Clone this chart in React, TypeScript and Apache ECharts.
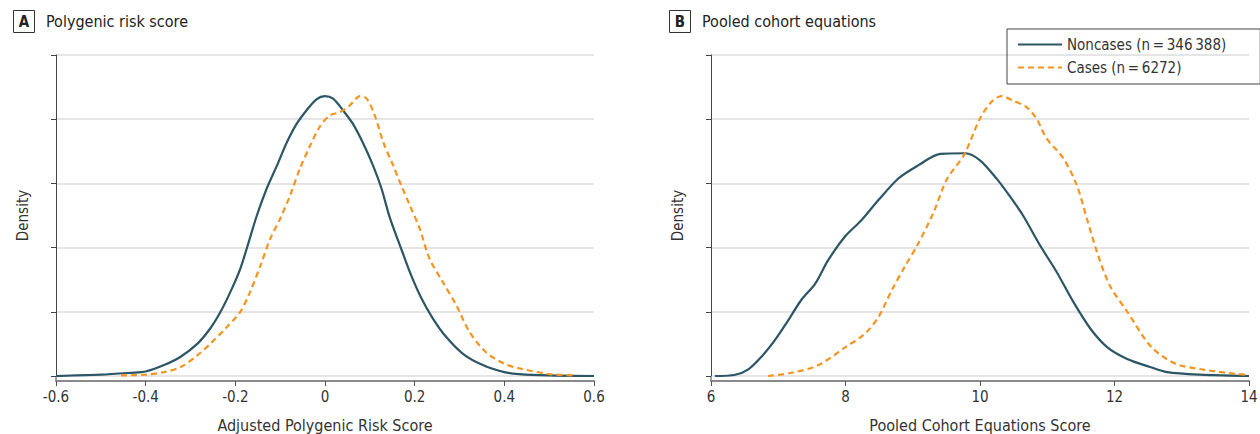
import React, { useEffect, useRef } from "react";
import * as echarts from "echarts";

const prsNoncases: [number, number][] = [
  [-0.6, 0.0], [-0.5, 0.02], [-0.433, 0.05], [-0.4, 0.07], [-0.359, 0.17], [-0.322, 0.3],
  [-0.285, 0.5], [-0.256, 0.74], [-0.233, 1.0], [-0.211, 1.31], [-0.189, 1.67], [-0.17, 2.09],
  [-0.152, 2.5], [-0.13, 2.92], [-0.107, 3.28], [-0.085, 3.64], [-0.063, 3.93], [-0.041, 4.14],
  [-0.019, 4.31], [0.0, 4.36], [0.018, 4.32], [0.04, 4.14], [0.062, 3.93], [0.084, 3.64],
  [0.107, 3.28], [0.126, 2.92], [0.144, 2.48], [0.17, 1.98], [0.192, 1.57], [0.215, 1.21],
  [0.241, 0.89], [0.27, 0.61], [0.307, 0.35], [0.352, 0.17], [0.4, 0.06], [0.433, 0.03],
  [0.5, 0.01], [0.6, 0.0],
];
const prsCases: [number, number][] = [
  [-0.455, 0.01], [-0.4, 0.02], [-0.359, 0.06], [-0.322, 0.14], [-0.285, 0.32], [-0.256, 0.5],
  [-0.222, 0.74], [-0.189, 1.0], [-0.167, 1.31], [-0.144, 1.72], [-0.122, 2.14], [-0.1, 2.45],
  [-0.078, 2.81], [-0.056, 3.23], [-0.033, 3.59], [-0.011, 3.89], [0.011, 4.06], [0.033, 4.11],
  [0.056, 4.22], [0.078, 4.36], [0.093, 4.32], [0.111, 4.06], [0.13, 3.64], [0.152, 3.28],
  [0.17, 2.97], [0.189, 2.66], [0.211, 2.3], [0.233, 1.83], [0.263, 1.46], [0.293, 1.1],
  [0.322, 0.69], [0.359, 0.37], [0.4, 0.19], [0.433, 0.12], [0.5, 0.03], [0.56, 0.01],
];
const pceNoncases: [number, number][] = [
  [6.06, 0.0], [6.36, 0.02], [6.55, 0.1], [6.75, 0.3], [6.95, 0.56], [7.15, 0.87], [7.34, 1.18],
  [7.55, 1.44], [7.74, 1.8], [7.99, 2.17], [8.24, 2.43], [8.49, 2.74], [8.79, 3.08], [9.08, 3.28],
  [9.41, 3.46], [9.78, 3.47], [10.0, 3.36], [10.25, 3.07], [10.45, 2.79], [10.64, 2.5],
  [10.89, 2.04], [11.14, 1.62], [11.39, 1.15], [11.64, 0.74], [11.89, 0.45], [12.18, 0.27],
  [12.53, 0.14], [12.78, 0.06], [13.27, 0.02], [14.0, 0.0],
];
const pceCases: [number, number][] = [
  [6.85, 0.0], [7.2, 0.05], [7.6, 0.17], [8.0, 0.45], [8.29, 0.66], [8.49, 0.92], [8.69, 1.34],
  [8.88, 1.7], [9.08, 2.06], [9.31, 2.55], [9.51, 3.07], [9.76, 3.44], [10.0, 4.01], [10.17, 4.27],
  [10.32, 4.36], [10.49, 4.29], [10.69, 4.19], [10.84, 4.01], [10.99, 3.7], [11.24, 3.39],
  [11.44, 2.97], [11.59, 2.45], [11.74, 1.93], [11.93, 1.41], [12.19, 1.0], [12.55, 0.45],
  [12.91, 0.19], [13.32, 0.1], [13.84, 0.03], [14.0, 0.02],
];

const NONCASES = "Noncases (n\u2009=\u2009346\u2009388)";
const CASES = "Cases (n\u2009=\u20096272)";
const FONT = "'Liberation Sans Narrow', 'DejaVu Sans Condensed', 'Roboto', sans-serif";
const TEAL = "#2c5565";
const ORANGE = "#f7941d";
const SOLID_ICON = "path://M0,0H44V2.2H0Z";
const DASH_ICON = "path://M0,0H6V2.2H0Z M10,0H16V2.2H10Z M20,0H26V2.2H20Z M30,0H36V2.2H30Z M40,0H44V2.2H40Z";

function fmt(v: number): string {
  const r = Math.round(v * 10) / 10;
  return r === 0 ? "0" : String(r);
}

export default function App() {
  const ref = useRef<HTMLDivElement>(null);
  useEffect(() => {
    document.body.style.margin = "0";
    const chart = echarts.init(ref.current!, null, { renderer: "svg" });
    const xAxisCommon = (min: number, max: number, interval: number, name: string, gridIndex: number) => ({
      type: "value" as const,
      gridIndex,
      min,
      max,
      interval,
      offset: 5,
      name,
      nameLocation: "middle" as const,
      nameGap: 36,
      nameTextStyle: { fontFamily: FONT, fontSize: 16, color: "#333" },
      axisLine: { onZero: false, lineStyle: { color: "#8a8a8a", width: 2 } },
      axisTick: { show: true, length: 5, lineStyle: { color: "#555" } },
      axisLabel: { fontFamily: FONT, fontSize: 15, color: "#333", margin: 8, formatter: fmt },
      splitLine: { show: false },
    });
    const yAxisCommon = (gridIndex: number) => ({
      type: "value" as const,
      gridIndex,
      min: 0,
      max: 5,
      interval: 1,
      name: "Density",
      nameLocation: "middle" as const,
      nameGap: 26,
      nameTextStyle: { fontFamily: FONT, fontSize: 15, color: "#333" },
      axisLine: { show: true, onZero: false, lineStyle: { color: "#444", width: 1 } },
      axisTick: { show: true, length: 5, lineStyle: { color: "#444" } },
      axisLabel: { show: false },
      splitLine: { show: true, lineStyle: { color: "#dcdcdc", width: 1.5 } },
    });
    const solid = { color: TEAL, width: 2.2, type: "solid" as const };
    const dashed = { color: ORANGE, width: 2.2, type: [6, 4] as any };
    chart.setOption({
      animation: false,
      textStyle: { fontFamily: FONT },
      grid: [
        { left: 56, right: 666, top: 55, bottom: 58, outerBoundsMode: "none", containLabel: false },
        { left: 711, right: 11, top: 55, bottom: 58, outerBoundsMode: "none", containLabel: false },
      ],
      xAxis: [
        xAxisCommon(-0.6, 0.6, 0.2, "Adjusted Polygenic Risk Score", 0),
        xAxisCommon(6, 14, 2, "Pooled Cohort Equations Score", 1),
      ],
      yAxis: [yAxisCommon(0), yAxisCommon(1)],
      legend: {
        left: 1007,
        top: 29,
        orient: "vertical",
        itemWidth: 44,
        itemHeight: 2.2,
        itemGap: 8,
        padding: [8, 34, 9, 11],
        borderColor: "#444",
        borderWidth: 1,
        selectedMode: false,
        textStyle: { fontFamily: FONT, fontSize: 15, color: "#333" },
        data: [
          { name: NONCASES, icon: SOLID_ICON, itemStyle: { color: TEAL } },
          { name: CASES, icon: DASH_ICON, itemStyle: { color: ORANGE } },
        ],
      },
      series: [
        { name: NONCASES, type: "line", xAxisIndex: 0, yAxisIndex: 0, data: prsNoncases, showSymbol: false, symbol: "none", smooth: 0.3, lineStyle: solid, itemStyle: { color: TEAL } },
        { name: CASES, type: "line", xAxisIndex: 0, yAxisIndex: 0, data: prsCases, showSymbol: false, symbol: "none", smooth: 0.3, lineStyle: dashed, itemStyle: { color: ORANGE } },
        { name: NONCASES, type: "line", xAxisIndex: 1, yAxisIndex: 1, data: pceNoncases, showSymbol: false, symbol: "none", smooth: 0.3, lineStyle: solid, itemStyle: { color: TEAL } },
        { name: CASES, type: "line", xAxisIndex: 1, yAxisIndex: 1, data: pceCases, showSymbol: false, symbol: "none", smooth: 0.3, lineStyle: dashed, itemStyle: { color: ORANGE } },
      ],
      graphic: [
        { type: "line", shape: { x1: 56, y1: 376, x2: 56, y2: 381 }, style: { stroke: "#444", lineWidth: 1 } },
        { type: "line", shape: { x1: 711, y1: 376, x2: 711, y2: 381 }, style: { stroke: "#444", lineWidth: 1 } },
        { type: "rect", shape: { x: 13.5, y: 10.5, width: 21, height: 22 }, style: { fill: "#fff", stroke: "#333", lineWidth: 1 } },
        { type: "text", x: 24, y: 21.5, style: { text: "A", fontFamily: FONT, fontSize: 15, fontWeight: "bold", fill: "#222", align: "center", verticalAlign: "middle" } },
        { type: "text", x: 46, y: 21.5, style: { text: "Polygenic risk score", fontFamily: FONT, fontSize: 16, fill: "#222", verticalAlign: "middle" } },
        { type: "rect", shape: { x: 669.5, y: 10.5, width: 21, height: 22 }, style: { fill: "#fff", stroke: "#333", lineWidth: 1 } },
        { type: "text", x: 680, y: 21.5, style: { text: "B", fontFamily: FONT, fontSize: 15, fontWeight: "bold", fill: "#222", align: "center", verticalAlign: "middle" } },
        { type: "text", x: 702, y: 21.5, style: { text: "Pooled cohort equations", fontFamily: FONT, fontSize: 16, fill: "#222", verticalAlign: "middle" } },
      ],
    });
    return () => chart.dispose();
  }, []);
  return <div ref={ref} style={{ width: 1260, height: 434 }} />;
}
